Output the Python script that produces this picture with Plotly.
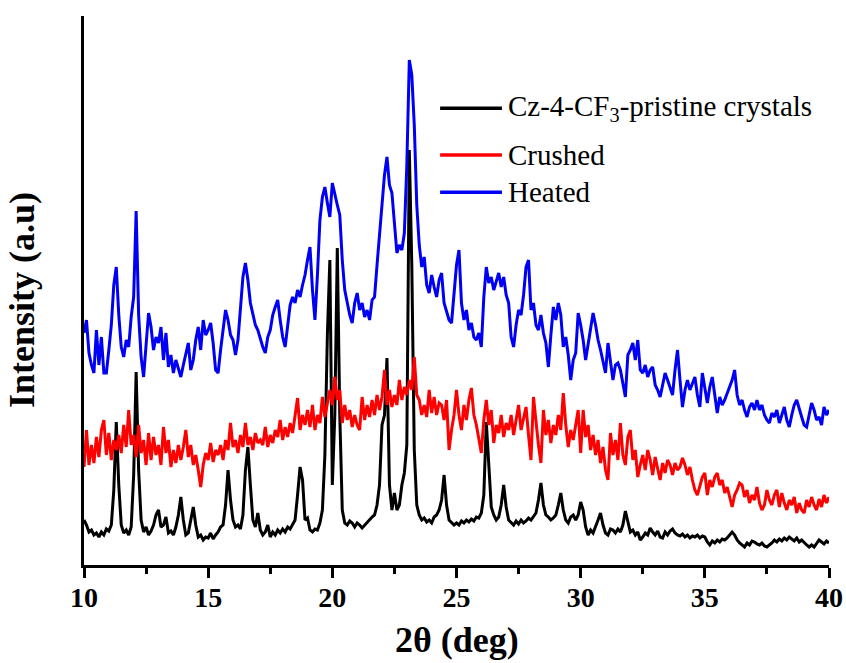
import numpy as np
import plotly.graph_objects as go

# 2-theta grid (deg), 0.1 deg step
two_theta = [round(10 + 0.1 * i, 1) for i in range(301)]

# Diffraction intensities (a.u.), offset stacked
pristine = [
    45, 40, 33, 35, 30, 32, 28, 33, 30, 36,
    34, 40, 75, 143, 80, 40, 32, 35, 30, 38,
    90, 193, 95, 45, 33, 38, 30, 34, 40, 50,
    55, 38, 40, 48, 32, 34, 30, 38, 50, 68,
    45, 30, 32, 45, 58, 40, 28, 30, 25, 28,
    27, 32, 26, 30, 33, 38, 40, 60, 95, 65,
    45, 38, 40, 36, 50, 95, 118, 80, 45, 38,
    52, 35, 30, 33, 40, 28, 33, 30, 35, 32,
    36, 33, 38, 36, 40, 45, 70, 98, 85, 45,
    47, 35, 33, 36, 35, 42, 55, 110, 230, 305,
    80, 150, 317, 150, 55, 42, 40, 44, 42, 38,
    42, 40, 37, 40, 43, 45, 48, 50, 60, 80,
    140, 150, 207, 80, 55, 72, 55, 60, 80, 92,
    120, 415, 300, 115, 60, 50, 45, 47, 43, 45,
    42, 48, 50, 55, 65, 90, 60, 45, 42, 40,
    42, 40, 44, 42, 45, 43, 46, 44, 48, 47,
    52, 70, 143, 100, 58, 50, 45, 48, 60, 80,
    58, 45, 42, 40, 44, 41, 45, 42, 44, 47,
    45, 48, 52, 65, 82, 60, 50, 48, 45, 47,
    50, 60, 72, 55, 45, 42, 48, 50, 45, 50,
    63, 55, 38, 30, 35, 32, 38, 45, 52, 40,
    32, 30, 36, 35, 32, 36, 33, 40, 54, 42,
    33, 35, 30, 33, 25, 28, 32, 30, 37, 33,
    30, 34, 28, 27, 33, 30, 34, 36, 32, 30,
    29, 31, 28, 30, 27, 29, 28, 30, 27, 29,
    28, 23, 20, 24, 22, 25, 23, 26, 25, 27,
    30, 33, 30, 25, 22, 20, 18, 22, 20, 24,
    23, 21, 20, 22, 19, 18, 20, 22, 25, 23,
    26, 24, 27, 25, 28, 26, 24, 27, 23, 25,
    22, 20, 18, 20, 18, 22, 25, 23, 21, 24,
    22,
]

crushed = [
    98, 135, 100, 120, 102, 128, 108, 135, 145, 110,
    132, 105, 125, 115, 130, 112, 140, 118, 155, 120,
    130, 108, 140, 112, 125, 100, 132, 105, 128, 110,
    120, 100, 138, 112, 125, 98, 115, 102, 120, 105,
    118, 135, 108, 120, 100, 110, 95, 78, 100, 112,
    105, 122, 103, 115, 110, 120, 105, 125, 115, 142,
    118, 125, 112, 130, 118, 142, 120, 128, 115, 132,
    122, 125, 120, 138, 118, 130, 122, 135, 128, 145,
    125, 138, 128, 142, 132, 150, 167, 135, 150, 140,
    155, 138, 160, 135, 150, 142, 168, 148, 162, 175,
    160, 188, 165, 175, 142, 160, 145, 155, 138, 150,
    140, 135, 168, 145, 160, 148, 165, 150, 170, 155,
    168, 195, 160, 175, 158, 170, 160, 185, 165, 178,
    170, 185, 175, 208, 170, 165, 150, 160, 148, 175,
    152, 168, 150, 162, 160, 145, 165, 115, 135, 150,
    175, 150, 135, 160, 145, 165, 177, 150, 140, 125,
    112, 145, 165, 140, 155, 122, 140, 132, 150, 128,
    142, 135, 150, 130, 145, 160, 135, 148, 158, 130,
    105, 168, 140, 120, 102, 155, 130, 145, 122, 140,
    130, 150, 135, 172, 140, 118, 135, 125, 140, 155,
    112, 155, 128, 140, 115, 130, 110, 125, 102, 118,
    95, 85, 132, 110, 125, 105, 142, 110, 100, 128,
    135, 105, 115, 88, 100, 110, 95, 115, 105, 90,
    108, 95, 85, 102, 92, 105, 100, 90, 102, 95,
    98, 107, 100, 90, 98, 85, 75, 70, 80, 88,
    92, 70, 85, 78, 88, 92, 80, 85, 72, 78,
    68, 58, 70, 75, 82, 80, 68, 75, 62, 70,
    65, 78, 62, 55, 60, 75, 65, 60, 70, 75,
    58, 72, 62, 55, 65, 60, 68, 52, 62, 55,
    52, 65, 58, 68, 60, 55, 66, 58, 70, 62,
    68,
]

heated = [
    232, 245, 212, 200, 192, 235, 200, 228, 192, 192,
    215, 240, 280, 298, 250, 218, 208, 225, 218, 248,
    268, 354, 250, 208, 188, 225, 252, 238, 215, 228,
    222, 238, 205, 232, 198, 210, 192, 205, 195, 188,
    200, 212, 222, 195, 205, 225, 238, 215, 245, 230,
    235, 242, 222, 195, 192, 215, 238, 255, 245, 230,
    225, 210, 225, 260, 288, 302, 285, 262, 250, 240,
    235, 225, 218, 212, 228, 235, 250, 258, 265, 245,
    228, 218, 240, 260, 268, 262, 275, 268, 280, 290,
    305, 318, 275, 245, 290, 345, 368, 378, 362, 348,
    382, 370, 360, 350, 305, 275, 262, 250, 242, 262,
    272, 255, 262, 248, 255, 245, 265, 268, 300, 330,
    365, 390, 408, 380, 372, 340, 312, 320, 315, 332,
    400, 505, 490, 440, 360, 320, 298, 308, 280, 272,
    290, 278, 268, 285, 292, 262, 252, 245, 242, 270,
    300, 315, 262, 245, 255, 235, 242, 228, 225, 232,
    218, 268, 298, 282, 288, 275, 285, 292, 278, 288,
    270, 262, 228, 218, 240, 255, 250, 270, 298, 305,
    255, 262, 240, 235, 250, 232, 222, 198, 230, 258,
    245, 262, 250, 218, 228, 210, 185, 205, 212, 252,
    240, 225, 205, 220, 235, 252, 240, 225, 215, 205,
    192, 222, 205, 185, 200, 202, 195, 180, 168, 210,
    215, 222, 205, 225, 195, 192, 200, 188, 195, 198,
    180, 175, 168, 180, 192, 185, 178, 170, 195, 215,
    185, 158, 175, 185, 175, 182, 188, 170, 158, 192,
    175, 162, 178, 188, 170, 152, 168, 160, 165, 172,
    178, 185, 195, 170, 160, 165, 155, 148, 158, 162,
    155, 165, 155, 160, 150, 145, 142, 152, 148, 155,
    142, 150, 158, 145, 138, 150, 160, 165, 155, 148,
    140, 138, 150, 162, 155, 145, 148, 140, 158, 150,
    155,
]

series_names = ["Cz-4-CF<sub>3</sub>-pristine crystals", "Crushed", "Heated"]
series_colors = ["#000000", "#ff0000", "#0000f5"]
series_values = [pristine, crushed, heated]

SERIF = "Liberation Serif, Times New Roman, serif"

fig = go.Figure()
for name, color, vals in zip(series_names, series_colors, series_values):
    fig.add_trace(go.Scatter(
        x=two_theta, y=vals, mode="lines", name=name,
        line=dict(color=color, width=3), showlegend=False,
    ))

# Legend drawn as line swatches with labels
legend_y = [0.832, 0.747, 0.679]
for name, color, ly in zip(series_names, series_colors, legend_y):
    fig.add_shape(type="line", xref="paper", yref="paper",
                  x0=0.478, x1=0.561, y0=ly, y1=ly,
                  line=dict(color=color, width=3.5))
    fig.add_annotation(xref="paper", yref="paper", x=0.566, y=ly,
                       text=name, showarrow=False, xanchor="left", yanchor="middle",
                       font=dict(family=SERIF, size=29, color="#000000"))

# Axis titles
title_font = dict(family=SERIF, size=36, color="black", weight="bold")
fig.add_annotation(xref="paper", yref="paper", x=0.5, y=-0.1366,
                   text="2θ (deg)", showarrow=False,
                   xanchor="center", yanchor="middle", font=title_font)
fig.add_annotation(xref="paper", yref="paper", x=-0.083, y=0.483,
                   text="Intensity (a.u)", showarrow=False, textangle=-90,
                   xanchor="center", yanchor="middle", font=title_font)

fig.update_layout(
    width=846, height=663,
    margin=dict(l=84, r=17, t=16, b=98, autoexpand=False),
    paper_bgcolor="white", plot_bgcolor="white",
    xaxis=dict(
        range=[10, 40], tickmode="array", tickvals=[10, 15, 20, 25, 30, 35, 40],
        showline=True, linecolor="black", linewidth=3, mirror=False,
        ticks="outside", ticklen=10, tickwidth=3, tickcolor="black",
        ticklabelstandoff=-5,
        minor=dict(tickvals=[12.5, 17.5, 22.5, 27.5, 32.5, 37.5], ticks="outside",
                   ticklen=6, tickwidth=3, tickcolor="black"),
        showgrid=False, zeroline=False, automargin=False,
        tickfont=dict(family=SERIF, size=28, color="black", weight="bold"),
    ),
    yaxis=dict(
        range=[0, 549], showline=True, linecolor="black", linewidth=3,
        showticklabels=False, ticks="", showgrid=False, zeroline=False,
        automargin=False,
    ),
)

fig.write_html("out.html")
